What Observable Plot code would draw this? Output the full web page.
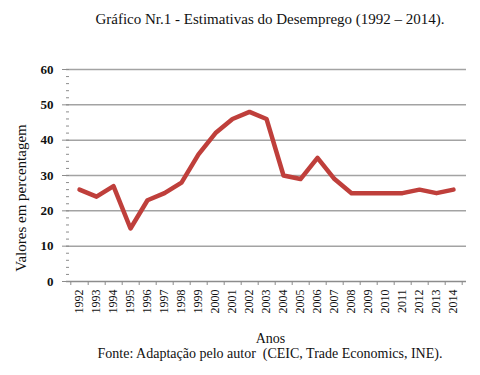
<!DOCTYPE html>
<html><head><meta charset="utf-8">
<script src="https://cdn.jsdelivr.net/npm/d3@7"></script>
<script src="https://cdn.jsdelivr.net/npm/@observablehq/plot@0.6"></script>
<style>
body{margin:0;background:#fff;font-family:"Liberation Serif",serif;}
#wrap{width:480px;height:375px;position:relative;}
#title{position:absolute;top:11px;left:60px;width:420px;text-align:center;font-size:15px;color:#111;font-family:"Liberation Serif",serif;}
#cap{position:absolute;top:346px;left:60px;width:420px;text-align:center;font-size:14px;color:#111;font-family:"Liberation Serif",serif;white-space:pre;}
#chart{position:absolute;top:40px;left:0;}
#chart svg text{font-family:"Liberation Serif",serif !important;}
</style></head>
<body><div id="wrap">
<div id="title">Gráfico Nr.1 - Estimativas do Desemprego (1992 – 2014).</div>
<div id="chart"></div>
<div id="cap">Fonte: Adaptação pelo autor  (CEIC, Trade Economics, INE).</div>
</div>
<script>
const years = ["1992","1993","1994","1995","1996","1997","1998","1999","2000","2001","2002","2003","2004","2005","2006","2007","2008","2009","2010","2011","2012","2013","2014"];
const values = [26,24,27,15,23,25,28,36,42,46,48,46,30,29,35,29,25,25,25,25,26,25,26];
const yTicks = [0,10,20,30,40,50,60];
const yMinor = d3.range(0,61,2);
const data = years.map((y,i)=>({year:y, value:values[i]}));

const chart = Plot.plot({
  width:480, height:305,
  marginLeft:66, marginRight:14, marginTop:29, marginBottom:64,
  style:{fontFamily:"Liberation Serif, serif", fontSize:"12px", color:"#111", background:"transparent"},
  x:{type:"point", domain:years, padding:0.5, label:null},
  y:{domain:[0,60], label:null},
  marks:[
    Plot.ruleY(yTicks.filter(d=>d>0), {stroke:"#a3a3a3", strokeWidth:1.5}),
    Plot.ruleY([0], {stroke:"#8c8c8c", strokeWidth:1.5}),
    Plot.ruleX([0], {frameAnchor:"left", stroke:"#8c8c8c", strokeWidth:1.5}),
    Plot.axisY({ticks:yMinor, tickSize:3, dx:3, text:null, stroke:"#8c8c8c", label:null}),
    Plot.axisY({ticks:yTicks, tickSize:4, tickPadding:9, stroke:"#8c8c8c", fontSize:13, fontWeight:"bold", fontFamily:"Liberation Serif, serif", label:null}),
    Plot.axisX({tickSize:0, tickRotate:-90, tickPadding:8, fontSize:12, fontFamily:"Liberation Serif, serif", label:null}),
    Plot.axisX({text:null, tickSize:4, dx:8.7, stroke:"#8c8c8c", label:null}),
    Plot.axisX({ticks:["1992"], text:null, tickSize:4, dx:-8.7, stroke:"#8c8c8c", label:null}),
    Plot.line(data, {x:"year", y:"value", stroke:"#bf3f3b", strokeWidth:4.5, strokeLinejoin:"round", strokeLinecap:"round"}),
    Plot.text(["Anos"], {frameAnchor:"bottom", dy:61, dx:4, fontSize:14, fontFamily:"Liberation Serif, serif"})
  ]
});
document.getElementById("chart").appendChild(chart);

const svg = d3.select(chart);
svg.append("text")
  .attr("transform","translate(21,158) rotate(-90)")
  .attr("text-anchor","middle")
  .attr("dy","0.35em")
  .style("font-size","15px")
  .style("font-family","Liberation Serif, serif")
  .attr("fill","#111")
  .text("Valores em percentagem");
</script>
</body></html>
